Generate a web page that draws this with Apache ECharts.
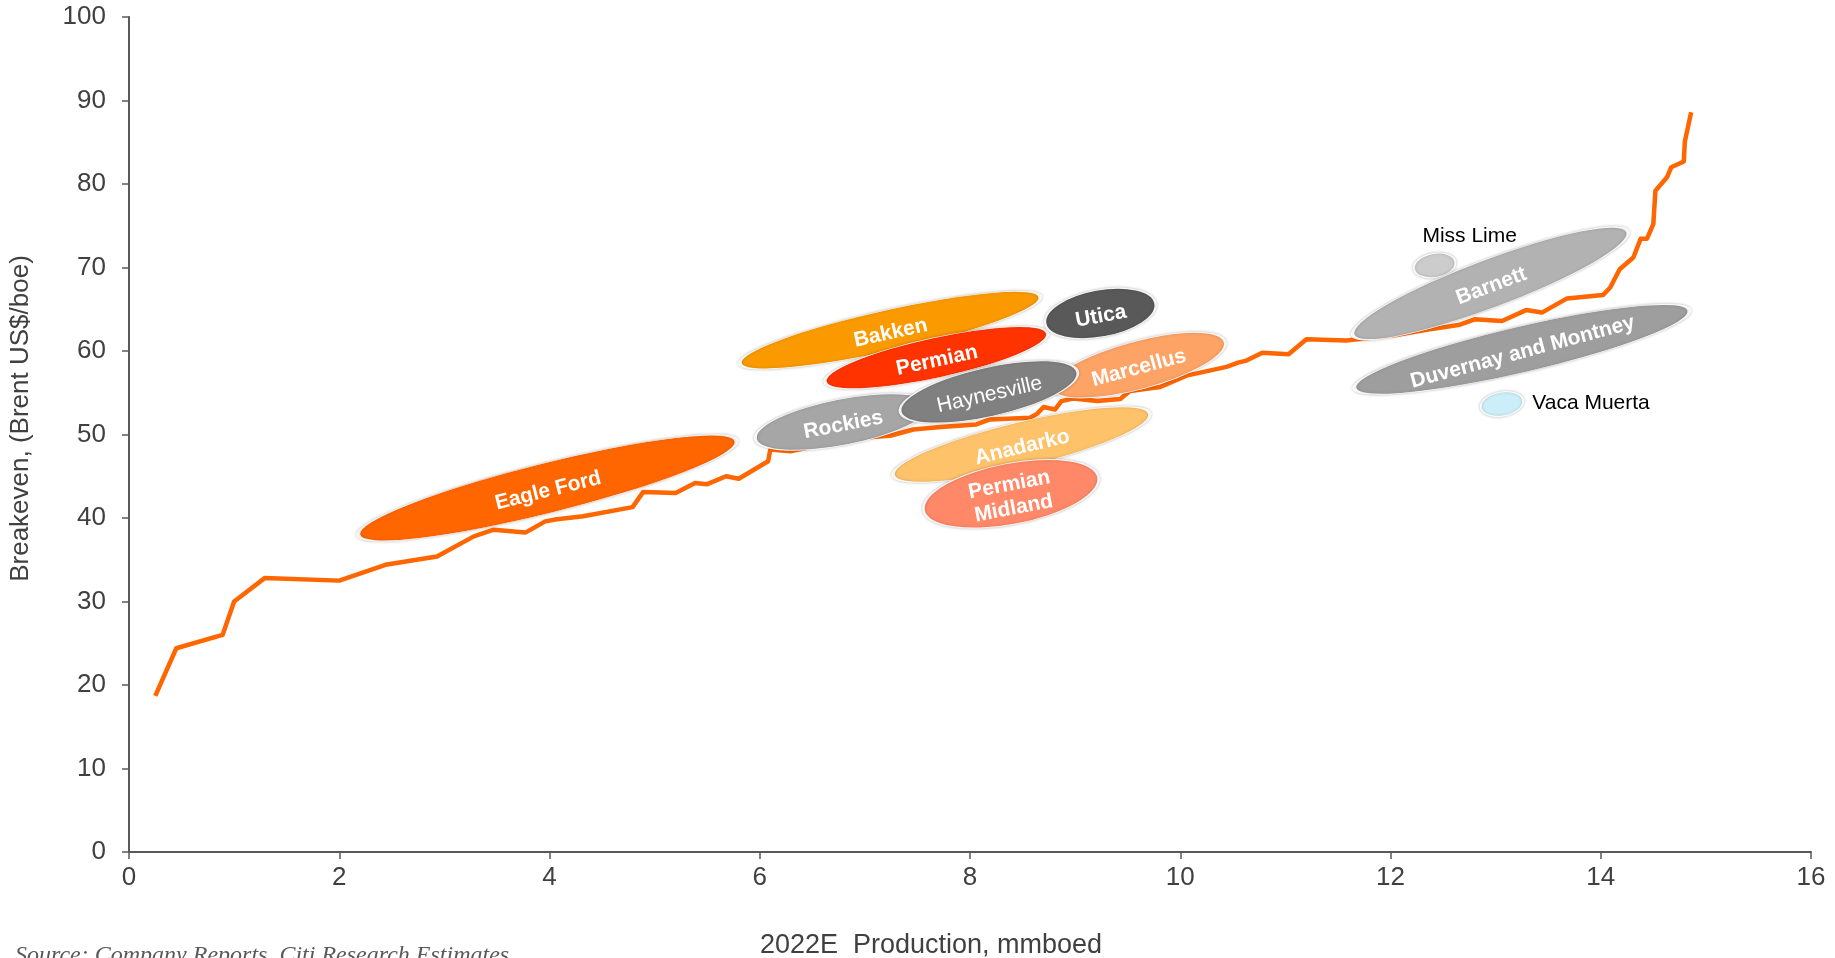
<!DOCTYPE html>
<html>
<head>
<meta charset="utf-8">
<script src="https://cdn.jsdelivr.net/npm/echarts@6/dist/echarts.min.js"></script>
<style>
html,body{margin:0;padding:0;background:#fff;}
#chart{width:1835px;height:958px;}
</style>
</head>
<body>
<div id="chart"></div>
<script>
// ---------- DATA ----------
// Cost curve: cumulative 2022E production (mmboed) vs breakeven (Brent US$/boe)
const curveProduction = [0.25,0.45,0.89,1.0,1.29,2.0,2.44,2.93,3.28,3.47,3.77,3.96,4.07,4.32,4.79,4.89,5.2,5.385,5.5,5.68,5.8,6.08,6.1,6.29,6.6,6.95,7.24,7.46,7.72,8.06,8.19,8.57,8.64,8.7,8.81,8.87,8.98,9.21,9.43,9.52,9.81,10.06,10.44,10.55,10.63,10.78,11.03,11.2,11.58,12.05,12.37,12.41,12.66,12.8,13.06,13.29,13.44,13.68,14.02,14.09,14.18,14.31,14.38,14.44,14.5,14.52,14.63,14.67,14.79,14.8,14.86];
const curveBreakeven  = [18.7,24.4,26.0,30.0,32.8,32.5,34.4,35.4,37.8,38.6,38.25,39.6,39.85,40.2,41.3,43.1,43.0,44.2,44.05,45.0,44.7,46.8,48.2,48.0,48.8,49.6,49.85,50.6,50.9,51.2,51.8,52.0,52.5,53.3,53.0,54.0,54.3,54.0,54.25,55.2,55.7,57.05,58.1,58.6,58.85,59.8,59.6,61.4,61.25,61.9,62.6,62.65,63.15,63.8,63.6,64.9,64.6,66.3,66.7,67.6,69.8,71.2,73.45,73.45,75.2,79.2,80.8,82.0,82.7,85.1,88.6];

// Plays (drawn in this order) and their centre positions
const playNames      = ['Eagle Ford','Bakken','Permian','Utica','Rockies','Marcellus','Haynesville','Anadarko','Permian Midland','Miss Lime','Barnett','Duvernay and Montney','Vaca Muerta'];
const playProduction = [3.98, 7.24, 7.68, 9.24, 6.79, 9.60, 8.18, 8.49, 8.39, 12.42, 12.95, 13.25, 13.06];
const playBreakeven  = [43.6, 62.5, 59.2, 64.5, 51.5, 58.3, 55.1, 48.8, 42.9, 70.25, 68.1, 60.2, 53.65];

// Axis ticks
const xMin = 0, xMax = 16, xStep = 2;
const yMin = 0, yMax = 100, yStep = 10;

// ---------- STYLES ----------
const playStyle = {
  'Eagle Ford':           {size:[390,50], rot:14,   color:'#FF6600'},
  'Bakken':               {size:[308,41], rot:12.5, color:'#FA9A00'},
  'Permian':              {size:[228,40], rot:12.3, color:'#FF3300'},
  'Utica':                {size:[112,47], rot:10.4, color:'#595959'},
  'Rockies':              {size:[178,46], rot:11,   color:'#A6A6A6'},
  'Marcellus':            {size:[180,48], rot:15,   color:'#FDA366'},
  'Haynesville':          {size:[182,49], rot:12.7, color:'#808080', weight:'normal'},
  'Anadarko':             {size:[264,45], rot:13.5, color:'#FEC36A'},
  'Permian Midland':      {size:[178,61], rot:10.8, color:'#FF8868', text:'Permian\nMidland', lineHeight:24},
  'Miss Lime':            {size:[42,24],  rot:10,   color:'#CCCCCC', outside:'top',   offset:[35,3]},
  'Barnett':              {size:[294,48], rot:20.6, color:'#B2B2B2'},
  'Duvernay and Montney': {size:[344,46], rot:13.1, color:'#9E9E9E', labelRot:15},
  'Vaca Muerta':          {size:[43,24],  rot:10,   color:'#CCEEF8', outside:'right', offset:[0,-1]}
};

const ELLIPSE = 'path://M0,50A50,50,0,1,1,100,50A50,50,0,1,1,0,50Z';
const FONT = '"Liberation Sans", Arial, sans-serif';

const playData = playNames.map(function (name, i) {
  const st = playStyle[name];
  const label = st.outside ? {
    show: true, position: st.outside, distance: 6, offset: st.offset,
    formatter: name, color: '#000', fontSize: 21, fontFamily: FONT, fontWeight: 'normal'
  } : {
    show: true, position: 'inside', rotate: st.labelRot || st.rot, offset: [0, 3],
    formatter: st.text || name, color: '#fff', fontSize: 21, fontFamily: FONT,
    fontWeight: st.weight || 'bold', lineHeight: st.lineHeight || 24, align: 'center'
  };
  return {
    name: name,
    value: [playProduction[i], playBreakeven[i]],
    symbolSize: st.size,
    symbolRotate: st.rot,
    itemStyle: {
      color: st.color,
      opacity: 1,
      borderColor: 'rgba(255,255,255,0.9)',
      borderWidth: 1.5,
      shadowBlur: 3,
      shadowColor: 'rgba(0,0,0,0.25)'
    },
    label: label
  };
});

const curveData = curveProduction.map(function (x, i) { return [x, curveBreakeven[i]]; });

const chart = echarts.init(document.getElementById('chart'), null, {renderer: 'canvas'});
chart.setOption({
  animation: false,
  backgroundColor: '#fff',
  grid: {left: 129, right: 24, top: 17, bottom: 106, containLabel: false, outerBoundsMode: 'none'},
  xAxis: {
    type: 'value', min: xMin, max: xMax, interval: xStep,
    name: '2022E  Production, mmboed',
    nameLocation: 'middle', nameGap: 80,
    nameTextStyle: {fontSize: 27, color: '#404040', fontFamily: FONT, padding: [0, 78, 0, 0]},
    axisLine: {show: true, lineStyle: {color: '#595959', width: 2}},
    axisTick: {show: true, length: 7, lineStyle: {color: '#595959', width: 1.5}},
    axisLabel: {fontSize: 26, color: '#404040', fontFamily: FONT, margin: 13},
    splitLine: {show: false}
  },
  yAxis: {
    type: 'value', min: yMin, max: yMax, interval: yStep,
    name: 'Breakeven, (Brent US$/boe)',
    nameLocation: 'middle', nameGap: 95,
    nameTextStyle: {fontSize: 26, color: '#404040', fontFamily: FONT, padding: [0, 0, 0, 32]},
    axisLine: {show: true, lineStyle: {color: '#595959', width: 2}},
    axisTick: {show: true, length: 7, lineStyle: {color: '#595959', width: 1.5}},
    axisLabel: {fontSize: 26, color: '#404040', fontFamily: FONT, margin: 23},
    splitLine: {show: false}
  },
  graphic: [{
    type: 'text', left: 15, top: 944, silent: true,
    style: {
      text: 'Source: Company Reports, Citi Research Estimates',
      font: 'italic 24px "Liberation Serif", "DejaVu Serif", serif',
      fill: '#595959'
    }
  }],
  series: [
    {
      type: 'line', data: curveData, showSymbol: false, symbol: 'none', z: 2,
      lineStyle: {color: '#FF6600', width: 4.5, join: 'round'},
      silent: true
    },
    {
      type: 'scatter', data: playData, symbol: ELLIPSE, z: 3,
      silent: true, emphasis: {disabled: true}
    }
  ]
});
</script>
</body>
</html>
